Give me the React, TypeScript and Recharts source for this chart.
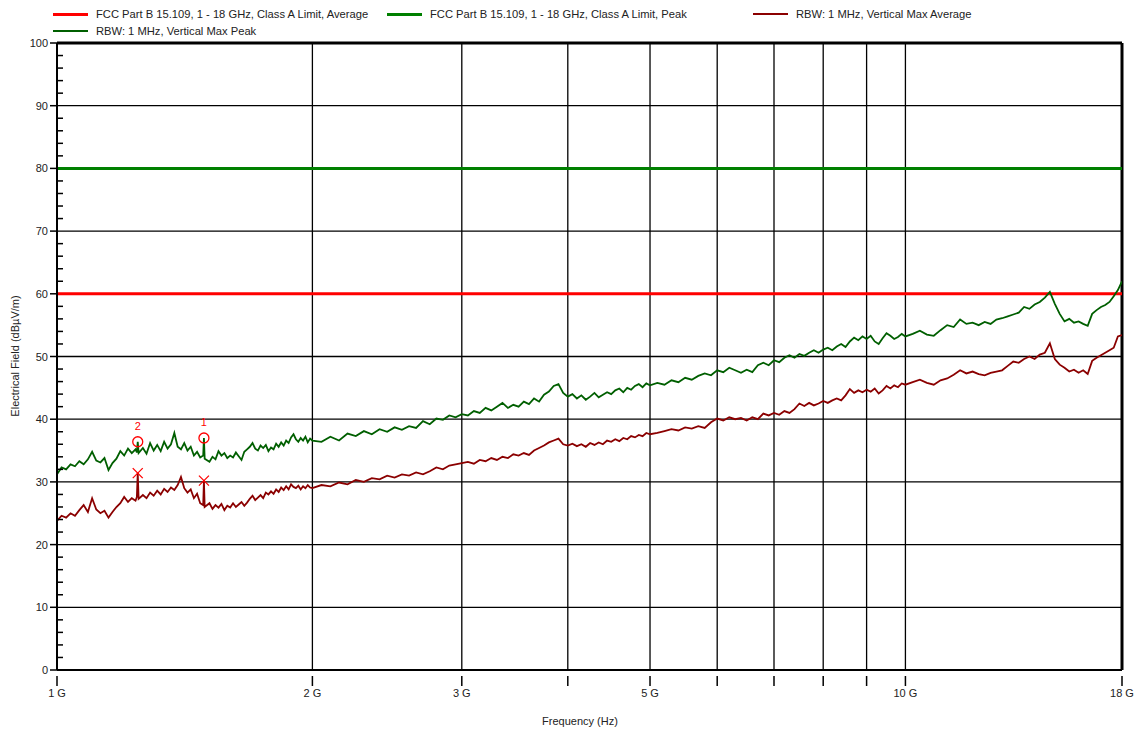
import React from 'react';
import { LineChart, Line, XAxis, YAxis, ReferenceLine, ReferenceDot } from 'recharts';

// frequency axis, GHz
const freqGHz = [
  1.0, 1.0125, 1.025, 1.0375, 1.05, 1.0625, 1.075, 1.0875, 1.1, 1.1125,
  1.125, 1.1375, 1.15, 1.1625, 1.175, 1.1875, 1.2, 1.2125, 1.225, 1.2375,
  1.242, 1.245, 1.248,
  1.2625, 1.275, 1.2875, 1.3, 1.3125, 1.325, 1.3375, 1.35, 1.3625, 1.375,
  1.3875, 1.4, 1.4125, 1.425, 1.4375, 1.45, 1.4625, 1.475,
  1.487, 1.49, 1.493,
  1.5125, 1.525, 1.5375, 1.55, 1.5625, 1.575, 1.5875, 1.6, 1.6125, 1.625,
  1.6375, 1.65, 1.6625, 1.675, 1.6875, 1.7, 1.7125, 1.725, 1.7375, 1.75,
  1.7625, 1.775, 1.7875, 1.8, 1.8125, 1.825, 1.8375, 1.85, 1.8625, 1.875,
  1.8875, 1.9, 1.9125, 1.925, 1.9375, 1.95, 1.9625, 1.975, 1.9875, 2.0,
  2.05, 2.1, 2.15, 2.2, 2.25, 2.3, 2.35, 2.4, 2.45, 2.5, 2.55, 2.6, 2.65, 2.7, 2.75, 2.8, 2.85, 2.9, 2.95, 3.0,
  3.05, 3.1, 3.15, 3.2, 3.25, 3.3, 3.35, 3.4, 3.45, 3.5, 3.55, 3.6, 3.65, 3.7, 3.75, 3.8, 3.85, 3.9, 3.95, 4.0,
  4.05, 4.1, 4.15, 4.2, 4.25, 4.3, 4.35, 4.4, 4.45, 4.5, 4.55, 4.6, 4.65, 4.7, 4.75, 4.8, 4.85, 4.9, 4.95, 5.0,
  5.1, 5.2, 5.3, 5.4, 5.5, 5.6, 5.7, 5.8, 5.9, 6.0, 6.1, 6.2, 6.3, 6.4, 6.5, 6.6, 6.7, 6.8, 6.9, 7.0,
  7.1, 7.2, 7.3, 7.4, 7.5, 7.6, 7.7, 7.8, 7.9, 8.0, 8.1, 8.2, 8.3, 8.4, 8.5, 8.6, 8.7, 8.8, 8.9, 9.0,
  9.1, 9.2, 9.3, 9.4, 9.5, 9.6, 9.7, 9.8, 9.9, 10.0,
  10.2, 10.4, 10.6, 10.8, 11.0, 11.2, 11.4, 11.6, 11.8, 12.0, 12.2, 12.4, 12.6, 12.8, 13.0, 13.2, 13.4, 13.6, 13.8, 14.0,
  14.2, 14.4, 14.6, 14.8, 15.0, 15.2, 15.4, 15.6, 15.8, 16.0, 16.2, 16.4, 16.6, 16.8, 17.0, 17.2, 17.4, 17.6, 17.8, 18.0,
];

// RBW 1 MHz, vertical, max peak (dBuV/m)
const peakMaxHold = [
  31.2, 32.3, 32.0, 32.8, 32.5, 33.3, 32.8, 33.6, 34.8, 33.4,
  33.1, 33.8, 31.9, 33.0, 33.7, 34.9, 34.2, 35.3, 34.6, 35.2,
  34.7, 36.4, 34.6,
  35.4, 34.5, 36.2, 35.0, 35.9, 34.9, 36.4, 35.3, 36.0, 37.8,
  35.6, 35.2, 36.2, 35.0, 35.6, 34.2, 34.8, 33.9,
  34.2, 37.0, 33.7,
  33.2, 34.0, 33.6, 34.9, 34.2, 34.6, 33.8, 34.2, 33.9, 34.7,
  34.1, 33.5, 34.8, 35.2, 35.6, 36.2, 35.3, 35.0, 35.8, 35.4,
  35.9, 34.9, 35.5, 35.2, 36.1, 35.6, 36.3, 35.8, 36.6, 36.2,
  37.1, 37.6, 36.8, 36.4, 37.0, 36.6, 37.2, 36.3, 36.9, 36.6,
  36.4, 37.2, 36.6, 37.7, 37.3, 38.1, 37.6, 38.4, 38.0, 38.7, 38.3, 38.9, 38.6, 39.7, 39.2, 40.1, 39.9, 40.6, 40.3, 40.8,
  40.6, 41.3, 41.0, 41.8, 41.4, 42.0, 42.6, 41.8, 42.3, 42.0, 42.8, 42.4, 43.3, 42.8, 43.9, 44.4, 45.3, 45.6, 44.2, 43.6,
  44.0, 43.3, 43.8, 43.1, 43.6, 44.2, 43.5, 43.9, 44.3, 44.0, 44.6, 44.9, 44.3, 45.0, 44.7, 45.3, 45.6, 45.1, 45.7, 45.4,
  45.8, 45.5, 46.2, 45.9, 46.6, 46.3, 46.9, 47.3, 47.0, 47.8, 47.5, 48.2, 47.8, 47.4, 47.9, 47.5, 48.6, 49.0, 48.6, 49.4,
  49.1, 49.8, 50.2, 49.8, 50.4, 50.1, 50.6, 51.0, 50.6, 51.1, 51.4, 51.0, 51.6, 52.0, 51.5, 52.4, 53.0, 52.6, 53.2, 52.8,
  53.3, 52.4, 52.0, 52.9, 53.7, 53.3, 52.8, 53.1, 53.6, 53.2,
  53.6, 54.1, 53.5, 53.3, 54.2, 55.0, 54.7, 55.9, 55.2, 55.4, 55.0, 55.5, 55.2, 55.9, 56.1, 56.4, 56.7, 57.0, 57.9, 57.6,
  58.3, 58.7, 59.4, 60.3, 58.4, 56.8, 55.6, 56.0, 55.4, 55.6, 55.2, 54.9, 56.8, 57.4, 57.9, 58.2, 58.7, 59.6, 60.6, 62.0,
];

// RBW 1 MHz, vertical, max average (dBuV/m)
const avgMaxHold = [
  23.8, 24.6, 24.3, 25.0, 24.6, 25.5, 26.3, 25.2, 27.4, 25.6,
  25.0, 25.4, 24.3, 25.2, 26.0, 26.6, 27.6, 26.8, 27.4, 27.0,
  27.6, 31.4, 27.3,
  27.9, 27.4, 28.3, 27.8, 28.6, 28.0, 28.9, 28.4, 29.1, 28.7,
  29.5, 30.8, 29.0, 28.3, 28.8, 27.4, 28.1, 26.6,
  26.3, 30.2, 26.0,
  26.6, 25.7, 26.3, 25.9, 26.5, 25.5, 26.2, 25.9, 26.6, 26.0,
  26.4, 26.8, 26.2, 26.7, 27.3, 27.8, 27.1, 27.5, 27.9, 27.4,
  28.3, 28.0, 28.5, 28.1, 28.8, 28.4, 29.1, 28.7, 29.3, 28.8,
  29.6, 29.2, 29.0, 29.4, 28.8, 29.3, 29.0, 29.5, 29.1, 29.0,
  29.5, 29.3, 29.9, 29.6, 30.3, 30.0, 30.6, 30.4, 31.0, 30.7, 31.2, 31.0, 31.5, 31.2, 31.7, 32.3, 32.0, 32.6, 32.8, 33.0,
  33.2, 32.9, 33.5, 33.3, 33.8, 33.5, 34.0, 33.8, 34.4, 34.2, 34.6, 34.3, 35.0, 35.4, 35.8, 36.3, 36.6, 36.9, 36.0, 35.8,
  36.1, 35.7, 36.0, 35.6, 36.2, 35.9, 36.3, 36.0, 36.6, 36.4, 36.8, 36.5, 37.0, 36.8, 37.3, 37.1, 37.5, 37.3, 37.8, 37.6,
  37.8, 38.1, 38.4, 38.2, 38.7, 38.5, 38.9, 38.6, 39.5, 40.1, 39.8, 40.3, 40.0, 40.2, 39.8, 40.3, 40.0, 40.9, 40.6, 41.0,
  40.7, 41.3, 41.0, 41.6, 42.5, 42.1, 42.6, 42.2, 42.5, 42.9, 42.6, 43.0, 43.3, 43.0, 43.8, 44.8, 44.2, 44.6, 44.3, 44.7,
  44.4, 44.9, 44.1, 44.6, 45.3, 44.9, 45.4, 45.1, 45.7, 45.5,
  45.9, 46.3, 45.8, 45.5, 46.2, 46.5, 47.1, 47.8, 47.3, 47.6, 47.2, 47.0, 47.4, 47.6, 47.8, 48.5, 49.2, 49.0, 49.6, 50.0,
  49.6, 50.3, 50.6, 52.1, 49.6, 48.7, 48.2, 47.6, 47.9, 47.4, 47.8, 47.2, 49.3, 49.8, 50.2, 50.6, 51.0, 51.4, 53.2, 53.4,
];

const limitAverage = 60;
const limitPeak = 80;

// markers: label, frequency, peak value, average value
const markerLabels = ['1', '2'];
const markerFreq = [1.49, 1.245];
const markerPeak = [37.0, 36.4];
const markerAvg = [30.2, 31.4];

const xTicks = [1, 2, 3, 4, 5, 6, 7, 8, 9, 10, 18];
const xLabelled = [1, 2, 3, 5, 10, 18];
const xGrid = [2, 3, 4, 5, 6, 7, 8, 9, 10];
const yTicks = [
  0, 2, 4, 6, 8, 10, 12, 14, 16, 18, 20, 22, 24, 26, 28, 30, 32, 34, 36, 38, 40, 42, 44, 46, 48, 50,
  52, 54, 56, 58, 60, 62, 64, 66, 68, 70, 72, 74, 76, 78, 80, 82, 84, 86, 88, 90, 92, 94, 96, 98, 100,
];
const yGrid = [10, 20, 30, 40, 50, 60, 70, 80, 90];

const legendItems = [
  { name: 'FCC Part B 15.109, 1 - 18 GHz, Class A Limit, Average', color: '#ff0000', w: 3, x: 53, y: 14 },
  { name: 'FCC Part B 15.109, 1 - 18 GHz, Class A Limit, Peak', color: '#008000', w: 3, x: 387, y: 14 },
  { name: 'RBW: 1 MHz, Vertical Max Average', color: '#8b0000', w: 1.5, x: 753, y: 14 },
  { name: 'RBW: 1 MHz, Vertical Max Peak', color: '#005f00', w: 1.5, x: 53, y: 31 },
];

const data = freqGHz.map((f, i) => ({ f, peak: peakMaxHold[i], avg: avgMaxHold[i] }));

const FONT = 'Liberation Sans, Arial, sans-serif';
const PLOT_LEFT = 57;

const YTick = (props: any) => {
  const { y, payload } = props;
  const v = payload.value;
  if (v % 10 === 0) {
    return (
      <g>
        <line x1={PLOT_LEFT - 7} x2={PLOT_LEFT} y1={y} y2={y} stroke="#000" strokeWidth={1.5} />
        <text x={PLOT_LEFT - 9} y={y} textAnchor="end" dominantBaseline="central" fontSize={11} fontFamily={FONT} fill="#222">
          {v}
        </text>
      </g>
    );
  }
  return <line x1={PLOT_LEFT} x2={PLOT_LEFT + 6} y1={y} y2={y} stroke="#000" strokeWidth={1.5} />;
};

const XTick = (props: any) => {
  const { x, y, payload } = props;
  const v = payload.value;
  return (
    <g>
      <line x1={x} x2={x} y1={y - 2} y2={y + 8} stroke="#000" strokeWidth={1.5} />
      {xLabelled.includes(v) && (
        <text x={x} y={y + 19} textAnchor="middle" fontSize={11} fontFamily={FONT} fill="#222">
          {v} G
        </text>
      )}
    </g>
  );
};

const CircleMark = (props: any) => (
  <circle cx={props.cx} cy={props.cy} r={5} fill="none" stroke="#ff0000" strokeWidth={1.3} />
);

const CrossMark = (props: any) => {
  const { cx, cy } = props;
  const s = 5;
  return (
    <g stroke="#ff0000" strokeWidth={1.3}>
      <line x1={cx - s} y1={cy - s} x2={cx + s} y2={cy + s} />
      <line x1={cx - s} y1={cy + s} x2={cx + s} y2={cy - s} />
    </g>
  );
};

export default function App() {
  return (
    <div style={{ position: 'absolute', left: 0, top: 0, width: 1140, height: 733, background: '#fff', fontFamily: FONT }}>
      <LineChart width={1140} height={733} data={data} margin={{ top: 43, right: 18, left: 17, bottom: 33 }}>
        <XAxis
          dataKey="f"
          type="number"
          scale="log"
          domain={[1, 18]}
          allowDataOverflow
          ticks={xTicks}
          interval={0}
          tick={<XTick />}
          tickLine={false}
          height={30}
          axisLine={{ stroke: '#000', strokeWidth: 2 }}
        />
        <YAxis
          type="number"
          domain={[0, 100]}
          ticks={yTicks}
          interval={0}
          tick={<YTick />}
          tickLine={false}
          width={40}
          axisLine={{ stroke: '#000', strokeWidth: 2 }}
        />
        {yGrid.map((v) => (
          <ReferenceLine key={'y' + v} y={v} stroke="#000" strokeWidth={1.3} />
        ))}
        {xGrid.map((v) => (
          <ReferenceLine key={'x' + v} x={v} stroke="#000" strokeWidth={1.3} />
        ))}
        <ReferenceLine y={100} stroke="#000" strokeWidth={3} />
        <ReferenceLine x={18} stroke="#000" strokeWidth={3} />
        <ReferenceLine y={limitAverage} stroke="#ff0000" strokeWidth={3} />
        <ReferenceLine y={limitPeak} stroke="#008000" strokeWidth={3} />
        <Line type="linear" dataKey="avg" stroke="#8b0000" strokeWidth={1.8} dot={false} isAnimationActive={false} />
        <Line type="linear" dataKey="peak" stroke="#005f00" strokeWidth={1.8} dot={false} isAnimationActive={false} />
        {markerFreq.map((f, i) => (
          <ReferenceDot key={'p' + i} x={f} y={markerPeak[i]} r={5} shape={<CircleMark />}
            label={{ value: markerLabels[i], position: 'top', offset: 7, fill: '#ff0000', fontSize: 11, fontFamily: FONT }} />
        ))}
        {markerFreq.map((f, i) => (
          <ReferenceDot key={'a' + i} x={f} y={markerAvg[i]} r={5} shape={<CrossMark />} />
        ))}
      </LineChart>

      {legendItems.map((it) => (
        <div key={it.name} style={{ position: 'absolute', left: it.x, top: it.y - 7, height: 14, display: 'flex', alignItems: 'center', fontSize: 11.2, color: '#222', whiteSpace: 'nowrap' }}>
          <span style={{ display: 'inline-block', width: 35, height: it.w, background: it.color, marginRight: 8 }} />
          {it.name}
        </div>
      ))}

      <div style={{ position: 'absolute', left: 0, top: 715, width: 1160, textAlign: 'center', fontSize: 11, color: '#222' }}>
        Frequency (Hz)
      </div>
      <div style={{ position: 'absolute', left: 15, top: 356, fontSize: 11, color: '#222', whiteSpace: 'nowrap', transform: 'translate(-50%, -50%) rotate(-90deg)' }}>
        Electrical Field (dBµV/m)
      </div>
    </div>
  );
}
